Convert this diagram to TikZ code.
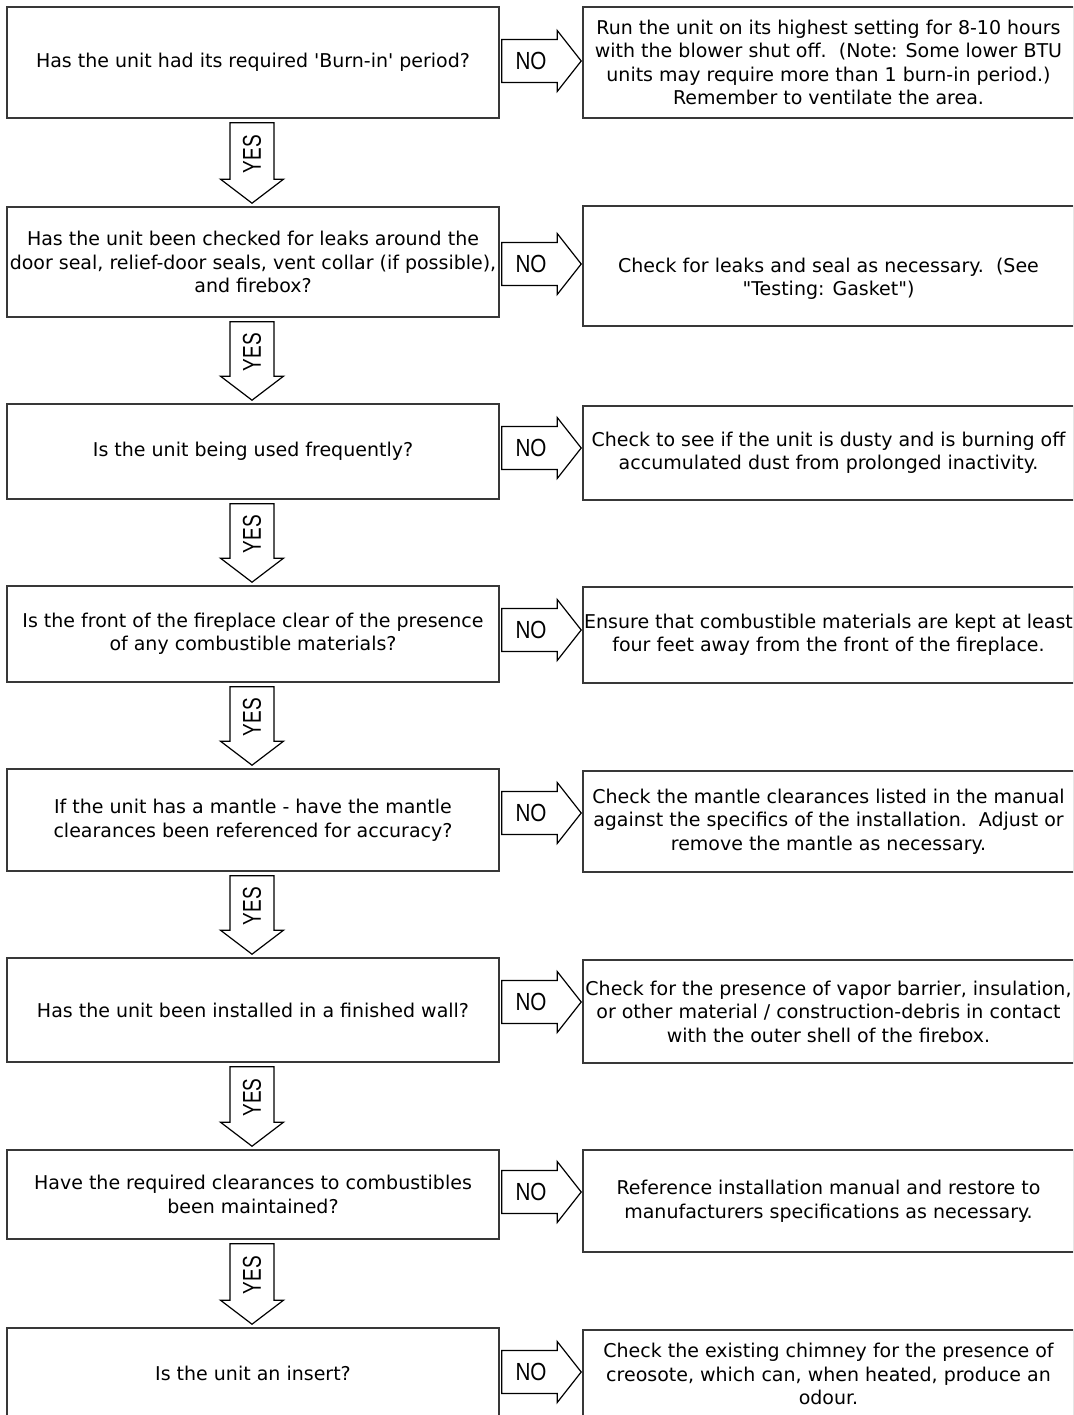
\documentclass[tikz,border=0pt]{standalone}
\usepackage{fontspec}
\usepackage{graphicx}
\newfontfamily\bodyfont{DejaVu Sans}
\newfontfamily\labelfont{Liberation Sans}
\usetikzlibrary{calc}

\tikzset{
  stepbox/.style={draw=black!78, line width=1.6pt, inner sep=0pt, align=center,
    text=black, font=\bodyfont\fontsize{19}{23.5}\selectfont},
  qbox/.style={stepbox, minimum width=492pt},
  abox/.style={stepbox, minimum width=491pt},
  blockarrow/.style={draw=black, line width=1.2pt, fill=white, line join=miter},
  nolabel/.style={inner sep=0pt, font=\labelfont},
  yeslabel/.style={inner sep=0pt, font=\labelfont},
}

% NO arrow: from a question box to its answer box, centred on line #3
\newcommand\noarrow[4]{%
  \draw[blockarrow] let \p1=(#1.east), \p2=(#2.west) in
    (\x1+2pt,-#3pt+21.5pt) -- (\x2-25pt,-#3pt+21.5pt) -- (\x2-25pt,-#3pt+30.5pt)
    -- (\x2-1pt,-#3pt) -- (\x2-25pt,-#3pt-30.5pt) -- (\x2-25pt,-#3pt-21.5pt)
    -- (\x1+2pt,-#3pt-21.5pt) -- cycle;
  \node[nolabel] (#4) at (531,#3) {\resizebox{31pt}{17.3pt}{NO}};
}

% YES arrow: from one question box down to the next
\newcommand\yesarrow[3]{%
  \draw[blockarrow] let \p1=(#1.south), \p2=(#2.north) in
    (\x1-23pt,\y1-4pt) -- (\x1+21pt,\y1-4pt) -- (\x1+21pt,\y2+27pt)
    -- (\x1+30.5pt,\y2+27pt) -- (\x1-1pt,\y2+3pt) -- (\x1-32.5pt,\y2+27pt)
    -- (\x1-23pt,\y2+27pt) -- cycle
    node[yeslabel] (#3) at (\x1-1pt,{(\y1+\y2)/2+8.5pt})
      {\rotatebox{90}{\resizebox{38pt}{18pt}{YES}}};
}

\begin{document}
\begin{tikzpicture}[x=1pt,y=-1pt]
\useasboundingbox (0,0) rectangle (1073,1415);
\clip (0,0) rectangle (1073,1415);

% questions
\node[qbox, minimum height=111pt] (q1) at (253,62.5)
  {Has the unit had its required \textquotesingle Burn-in\textquotesingle\ period?};
\node[qbox, minimum height=110pt] (q2) at (253,262)
  {Has the unit been checked for leaks around the\\door seal, relief-door seals, vent collar (if possible),\\and firebox?};
\node[qbox, minimum height=95pt] (q3) at (253,451.5)
  {Is the unit being used frequently?};
\node[qbox, minimum height=96pt] (q4) at (253,634)
  {Is the front of the fireplace clear of the presence\\of any combustible materials?};
\node[qbox, minimum height=102pt] (q5) at (253,820)
  {If the unit has a mantle - have the mantle\\clearances been referenced for accuracy?};
\node[qbox, minimum height=104pt] (q6) at (253,1010)
  {Has the unit been installed in a finished wall?};
\node[qbox, minimum height=89pt] (q7) at (253,1194.5)
  {Have the required clearances to combustibles\\been maintained?};
\node[qbox, minimum height=90pt] (q8) at (253,1373)
  {Is the unit an insert?};

% remedies
\node[abox, minimum height=111pt] (a1) at (828.5,62.5)
  {Run the unit on its highest setting for 8-10 hours\\with the blower shut off.\ \ (Note: Some lower BTU\\units may require more than 1 burn-in period.)\\Remember to ventilate the area.};
\node[abox, minimum height=120pt] (a2) at (828.5,266)
  {\strut\\Check for leaks and seal as necessary.\ \ (See\\\textquotedbl Testing: Gasket\textquotedbl)};
\node[abox, minimum height=94pt] (a3) at (828.5,453)
  {Check to see if the unit is dusty and is burning off\\accumulated dust from prolonged inactivity.};
\node[abox, minimum height=96pt] (a4) at (828.5,635)
  {Ensure that combustible materials are kept at least\\four feet away from the front of the fireplace.};
\node[abox, minimum height=101pt] (a5) at (828.5,821.5)
  {Check the mantle clearances listed in the manual\\against the specifics of the installation.\ \ Adjust or\\remove the mantle as necessary.};
\node[abox, minimum height=103pt] (a6) at (828.5,1011.5)
  {Check for the presence of vapor barrier, insulation,\\or other material / construction-debris in contact\\with the outer shell of the firebox.};
\node[abox, minimum height=102pt] (a7) at (828.5,1201)
  {Reference installation manual and restore to\\manufacturers specifications as necessary.};
\node[abox, minimum height=88pt] (a8) at (828.5,1374)
  {Check the existing chimney for the presence of\\creosote, which can, when heated, produce an\\odour.};

% NO branches
\noarrow{q1}{a1}{61}{no1}
\noarrow{q2}{a2}{264}{no2}
\noarrow{q3}{a3}{448}{no3}
\noarrow{q4}{a4}{630}{no4}
\noarrow{q5}{a5}{813}{no5}
\noarrow{q6}{a6}{1002}{no6}
\noarrow{q7}{a7}{1192}{no7}
\noarrow{q8}{a8}{1372}{no8}

% YES branches
\yesarrow{q1}{q2}{yes1}
\yesarrow{q2}{q3}{yes2}
\yesarrow{q3}{q4}{yes3}
\yesarrow{q4}{q5}{yes4}
\yesarrow{q5}{q6}{yes5}
\yesarrow{q6}{q7}{yes6}
\yesarrow{q7}{q8}{yes7}
\end{tikzpicture}
\end{document}
